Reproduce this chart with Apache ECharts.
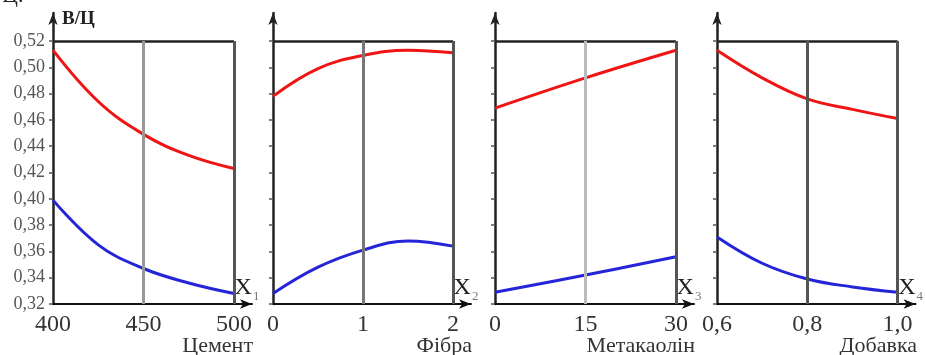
<!DOCTYPE html>
<html>
<head>
<meta charset="utf-8">
<script src="https://cdn.jsdelivr.net/npm/echarts@6/dist/echarts.min.js"></script>
<style>
    html, body { margin: 0; padding: 0; background: #fff; }
    #chart { width: 926px; height: 355px; }
</style>
</head>
<body>
<div id="chart"></div>
<script>
// values
const cementX = [400, 425, 450, 475, 500];
const cementRed = [0.513, 0.474, 0.449, 0.433, 0.423];
const cementBlue = [0.399, 0.365, 0.347, 0.336, 0.328];

const fibreX = [0, 0.5, 1, 1.5, 2];
const fibreRed = [0.478, 0.499, 0.509, 0.513, 0.511];
const fibreBlue = [0.328, 0.348, 0.361, 0.368, 0.364];

const metaX = [0, 15, 30];
const metaRed = [0.469, 0.492, 0.513];
const metaBlue = [0.329, 0.342, 0.356];

const addX = [0.6, 0.7, 0.8, 0.9, 1.0];
const addRed = [0.513, 0.492, 0.476, 0.468, 0.461];
const addBlue = [0.371, 0.351, 0.339, 0.333, 0.329];

const yTicks = [0.32, 0.34, 0.36, 0.38, 0.40, 0.42, 0.44, 0.46, 0.48, 0.50, 0.52];
const xTicks = [[400, 450, 500], [0, 1, 2], [0, 15, 30], [0.6, 0.8, 1.0]];
const xNames = ['Цемент', 'Фібра', 'Метакаолін', 'Добавка'];
const xDigits = [0, 0, 0, 1];

const panels = [
    { x: cementX, red: cementRed, blue: cementBlue },
    { x: fibreX, red: fibreRed, blue: fibreBlue },
    { x: metaX, red: metaRed, blue: metaBlue },
    { x: addX, red: addRed, blue: addBlue }
];

// frame positions in px
const frameLeft = [53, 273, 495, 717];
const frameRight = [234, 453, 676, 898];
const frameTop = 41, frameBottom = 304, arrowTop = 13, arrowExt = 18;
const midColor = ['#999', '#777', '#bbb', '#555'];

const font = '"Liberation Serif", "Times New Roman", serif';
const fmt = (v, d) => v.toFixed(d).replace('.', ',');

const yMin = yTicks[0], yTop = yTicks[yTicks.length - 1];
const yMax = yTop + (yTop - yMin) * (frameTop - arrowTop) / (frameBottom - frameTop);

let grids = [], xAxes = [], yAxes = [], series = [], graphics = [];

panels.forEach((p, i) => {
    const ticks = xTicks[i];
    const xMin = ticks[0], xEnd = ticks[ticks.length - 1];
    const w = frameRight[i] - frameLeft[i];
    const xMax = xEnd + (xEnd - xMin) * arrowExt / w;
    grids.push({ left: frameLeft[i], top: arrowTop, width: w + arrowExt, height: frameBottom - arrowTop });
    xAxes.push({
        type: 'value', gridIndex: i, min: xMin, max: xMax,
        name: '{x|X}{s|' + (i + 1) + '}', nameLocation: 'end', nameGap: -5,
        nameTextStyle: {
            align: 'center', verticalAlign: 'bottom', padding: [0, 0, 4, 0],
            rich: {
                x: { fontFamily: font, fontSize: 24, lineHeight: 24, color: '#222', verticalAlign: 'top' },
                s: { fontFamily: font, fontSize: 13, lineHeight: 13, color: '#777', verticalAlign: 'top', padding: [14, 0, 0, 1] }
            }
        },
        axisLine: { lineStyle: { color: '#111', width: 2 }, symbol: ['none', 'arrow'], symbolSize: [7, 12] },
        axisTick: { show: false },
        splitLine: { show: false },
        axisLabel: {
            customValues: ticks, margin: 9, fontFamily: font, fontSize: 24, color: '#333',
            formatter: v => fmt(v, xDigits[i])
        }
    });
    yAxes.push({
        type: 'value', gridIndex: i, min: yMin, max: yMax,
        axisLine: { lineStyle: { color: '#222', width: 2.5 }, symbol: ['none', 'arrow'], symbolSize: [7, 12] },
        axisTick: { customValues: yTicks, length: 4, lineStyle: { color: '#555', width: 1.5 } },
        splitLine: { show: false },
        axisLabel: {
            show: i === 0, customValues: yTicks, margin: 8, fontFamily: font, fontSize: 18, color: '#555',
            formatter: v => fmt(v, 2)
        }
    });
    const mid = (xMin + xEnd) / 2;
    series.push({
        type: 'line', xAxisIndex: i, yAxisIndex: i, smooth: 0.4, showSymbol: false,
        lineStyle: { color: '#f01515', width: 3 },
        data: p.x.map((v, k) => [v, p.red[k]]),
        markLine: {
            silent: true, symbol: 'none', label: { show: false },
            data: [
                [{ coord: [xMin, yTop], lineStyle: { color: '#222', width: 2.5, type: 'solid' } }, { coord: [xEnd, yTop] }],
                [{ coord: [xEnd, yMin], lineStyle: { color: '#555', width: 3, type: 'solid' } }, { coord: [xEnd, yTop] }],
                [{ coord: [mid, yMin], lineStyle: { color: midColor[i], width: 3, type: 'solid' } }, { coord: [mid, yTop] }]
            ]
        },
        z: 3
    });
    series.push({
        type: 'line', xAxisIndex: i, yAxisIndex: i, smooth: 0.4, showSymbol: false,
        lineStyle: { color: '#2424d8', width: 3 },
        data: p.x.map((v, k) => [v, p.blue[k]]),
        z: 3
    });
    graphics.push({
        type: 'text', right: 926 - frameRight[i] - 19, top: 335,
        style: { text: xNames[i], fontFamily: font, fontSize: 22, fill: '#333' }
    });
});

graphics.push({ type: 'text', left: 62, top: 10, style: { text: 'В/Ц', fontFamily: font, fontSize: 19, fontWeight: 'bold', fill: '#222' } });
graphics.push({ type: 'text', left: 2, top: -15, style: { text: 'Ц.', fontFamily: font, fontSize: 22, fill: '#222' } });

const chart = echarts.init(document.getElementById('chart'));
chart.setOption({
    animation: false,
    backgroundColor: '#fff',
    grid: grids,
    xAxis: xAxes,
    yAxis: yAxes,
    series: series,
    graphic: graphics
});
</script>
</body>
</html>
